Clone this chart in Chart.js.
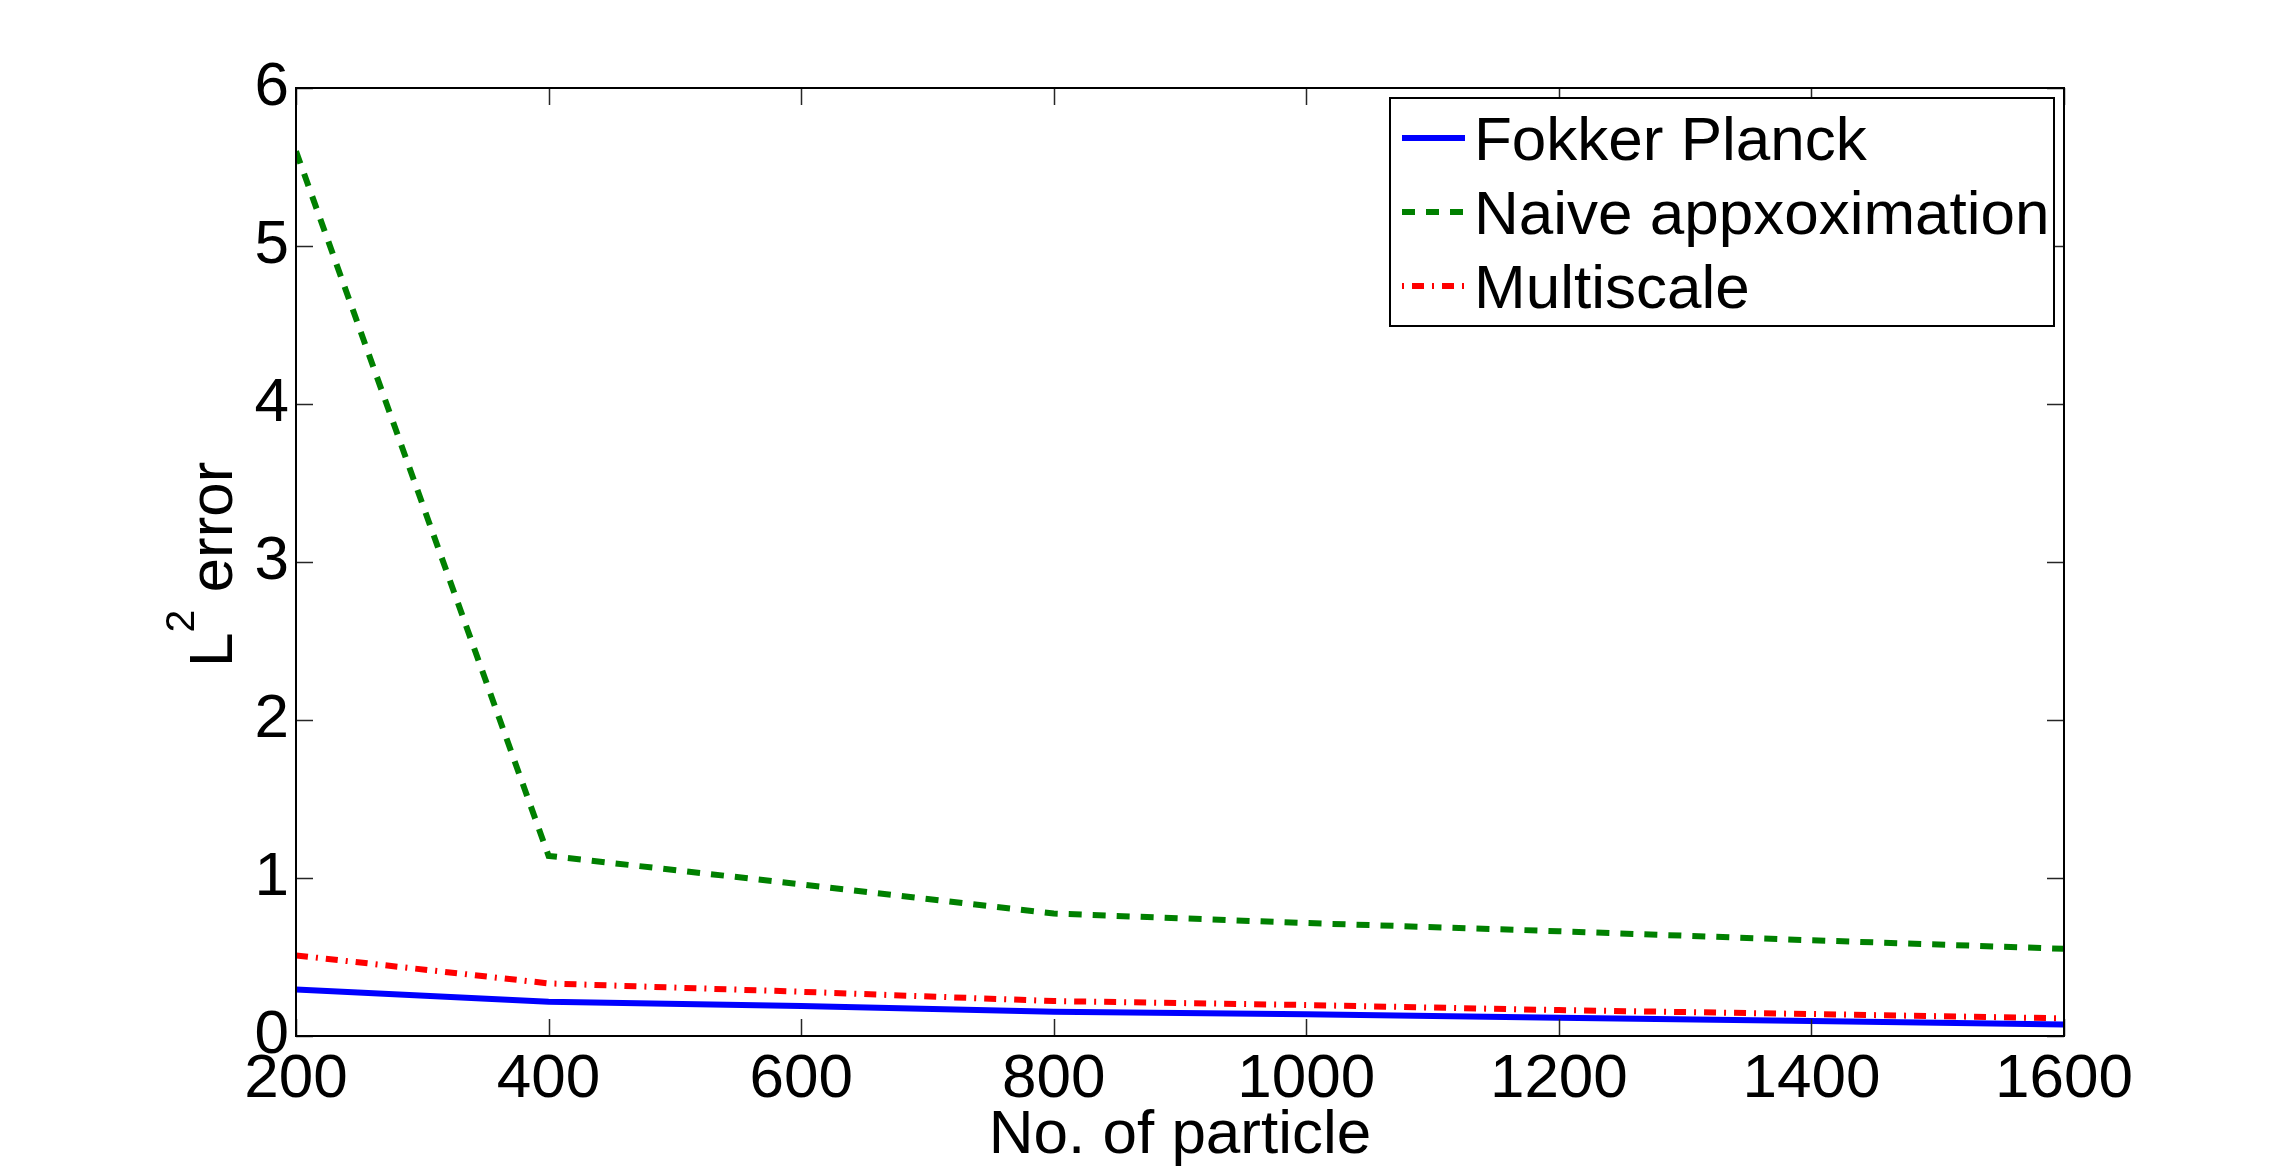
<!DOCTYPE html>
<html>
<head>
<meta charset="utf-8">
<script src="https://cdn.jsdelivr.net/npm/chart.js@4.4.1/dist/chart.umd.min.js"></script>
<style>
  body { margin: 0; background: #fff; }
  #errChart { display: block; }
</style>
</head>
<body>
<canvas id="errChart" width="2282" height="1173"></canvas>
<script>
// values
var particles = [200, 400, 600, 800, 1000, 1200, 1400, 1600];
var fokkerPlanck = [0.295, 0.217, 0.19, 0.154, 0.137, 0.116, 0.095, 0.072];
var naive = [5.6, 1.14, 0.96, 0.775, 0.715, 0.663, 0.606, 0.552];
var multiscale = [0.51, 0.333, 0.28, 0.221, 0.196, 0.164, 0.139, 0.112];
var seriesNames = ['Fokker Planck', 'Naive appxoximation', 'Multiscale'];
var xTicks = [200, 400, 600, 800, 1000, 1200, 1400, 1600];
var yTicks = [0, 1, 2, 3, 4, 5, 6];

var FONT = '"Liberation Sans", Arial, Helvetica, sans-serif';
var greenDash = [13, 11];
var redDash = [12, 8, 2, 8];

function points(vals) {
    return particles.map(function (p, i) { return { x: p, y: vals[i] }; });
}

// matlab style box with inward ticks on all four sides
var axesBox = {
    id: 'axesBox',
    afterDatasetsDraw: function (chart) {
        var ctx = chart.ctx, a = chart.chartArea;
        var xs = chart.scales.x, ys = chart.scales.y;
        var len = 17;
        ctx.save();
        ctx.strokeStyle = '#262626';
        ctx.lineWidth = 1.5;
        ctx.beginPath();
        xTicks.forEach(function (v) {
            var px = Math.round(xs.getPixelForValue(v)) + 0.5;
            ctx.moveTo(px, a.bottom); ctx.lineTo(px, a.bottom - len);
            ctx.moveTo(px, a.top); ctx.lineTo(px, a.top + len);
        });
        yTicks.forEach(function (v) {
            var py = Math.round(ys.getPixelForValue(v)) + 0.5;
            ctx.moveTo(a.left, py); ctx.lineTo(a.left + len, py);
            ctx.moveTo(a.right, py); ctx.lineTo(a.right - len, py);
        });
        ctx.stroke();
        ctx.strokeStyle = '#000';
        ctx.lineWidth = 2;
        ctx.strokeRect(a.left, a.top, a.right - a.left, a.bottom - a.top);
        ctx.restore();
    }
};

var boxLegend = {
    id: 'boxLegend',
    afterDraw: function (chart) {
        var ctx = chart.ctx;
        var left = 1390, top = 98, w = 664, h = 228;
        ctx.save();
        ctx.fillStyle = '#fff';
        ctx.fillRect(left, top, w, h);
        ctx.strokeStyle = '#000';
        ctx.lineWidth = 2;
        ctx.strokeRect(left, top, w, h);
        chart.data.datasets.forEach(function (ds, i) {
            var y = 138 + i * 74;
            ctx.beginPath();
            ctx.strokeStyle = ds.borderColor;
            ctx.lineWidth = ds.borderWidth;
            ctx.setLineDash(ds.borderDash || []);
            ctx.lineDashOffset = i === 2 ? 20 : 0;
            ctx.moveTo(1402, y);
            ctx.lineTo(1465, y);
            ctx.stroke();
            ctx.setLineDash([]);
            ctx.fillStyle = '#000';
            ctx.font = '62px ' + FONT;
            ctx.textAlign = 'left';
            ctx.textBaseline = 'alphabetic';
            ctx.fillText(ds.label, 1474, y + 22);
        });
        ctx.restore();
    }
};

// y label with a raised 2
var yTitle = {
    id: 'yTitle',
    afterDraw: function (chart) {
        var ctx = chart.ctx;
        ctx.save();
        ctx.translate(232, 667);
        ctx.rotate(-Math.PI / 2);
        ctx.fillStyle = '#000';
        ctx.textAlign = 'left';
        ctx.textBaseline = 'alphabetic';
        ctx.font = '62px ' + FONT;
        ctx.fillText('L', 0, 0);
        var x = ctx.measureText('L').width;
        ctx.font = '41px ' + FONT;
        ctx.fillText('2', x, -38);
        x += ctx.measureText('2').width;
        ctx.font = '62px ' + FONT;
        ctx.fillText(' error', x, 0);
        ctx.restore();
    }
};

var ctx = document.getElementById('errChart').getContext('2d');

var errChart = new Chart(ctx, {
    type: 'line',
    data: {
        datasets: [{
            label: seriesNames[0],
            data: points(fokkerPlanck),
            borderColor: '#0000ff',
            borderWidth: 6,
            pointRadius: 0
        }, {
            label: seriesNames[1],
            data: points(naive),
            borderColor: '#008000',
            borderWidth: 6,
            borderDash: greenDash,
            pointRadius: 0
        }, {
            label: seriesNames[2],
            data: points(multiscale),
            borderColor: '#ff0000',
            borderWidth: 6,
            borderDash: redDash,
            pointRadius: 0
        }]
    },
    options: {
        responsive: false,
        animation: false,
        layout: { padding: { top: 88, right: 218, left: 0, bottom: 0 } },
        plugins: {
            legend: { display: false },
            tooltip: { enabled: false }
        },
        scales: {
            x: {
                type: 'linear',
                min: 200,
                max: 1600,
                afterBuildTicks: function (s) { s.ticks = xTicks.map(function (v) { return { value: v }; }); },
                afterFit: function (s) { s.height = 137; },
                grid: { display: false, drawTicks: false },
                border: { display: false },
                ticks: {
                    padding: 7,
                    color: '#000',
                    maxRotation: 0,
                    autoSkip: false,
                    font: { family: FONT, size: 62 },
                    callback: function (v) { return String(v); }
                },
                title: {
                    display: true,
                    text: 'No. of particle',
                    color: '#000',
                    padding: { top: 0, bottom: 0 },
                    font: { family: FONT, size: 62 }
                }
            },
            y: {
                min: 0,
                max: 6,
                afterBuildTicks: function (s) { s.ticks = yTicks.map(function (v) { return { value: v }; }); },
                afterFit: function (s) { s.width = 296; },
                grid: { display: false, drawTicks: false },
                border: { display: false },
                ticks: {
                    padding: 7,
                    color: '#000',
                    font: { family: FONT, size: 62 },
                    callback: function (v) { return String(v); }
                }
            }
        }
    },
    plugins: [axesBox, boxLegend, yTitle]
});
</script>
</body>
</html>
